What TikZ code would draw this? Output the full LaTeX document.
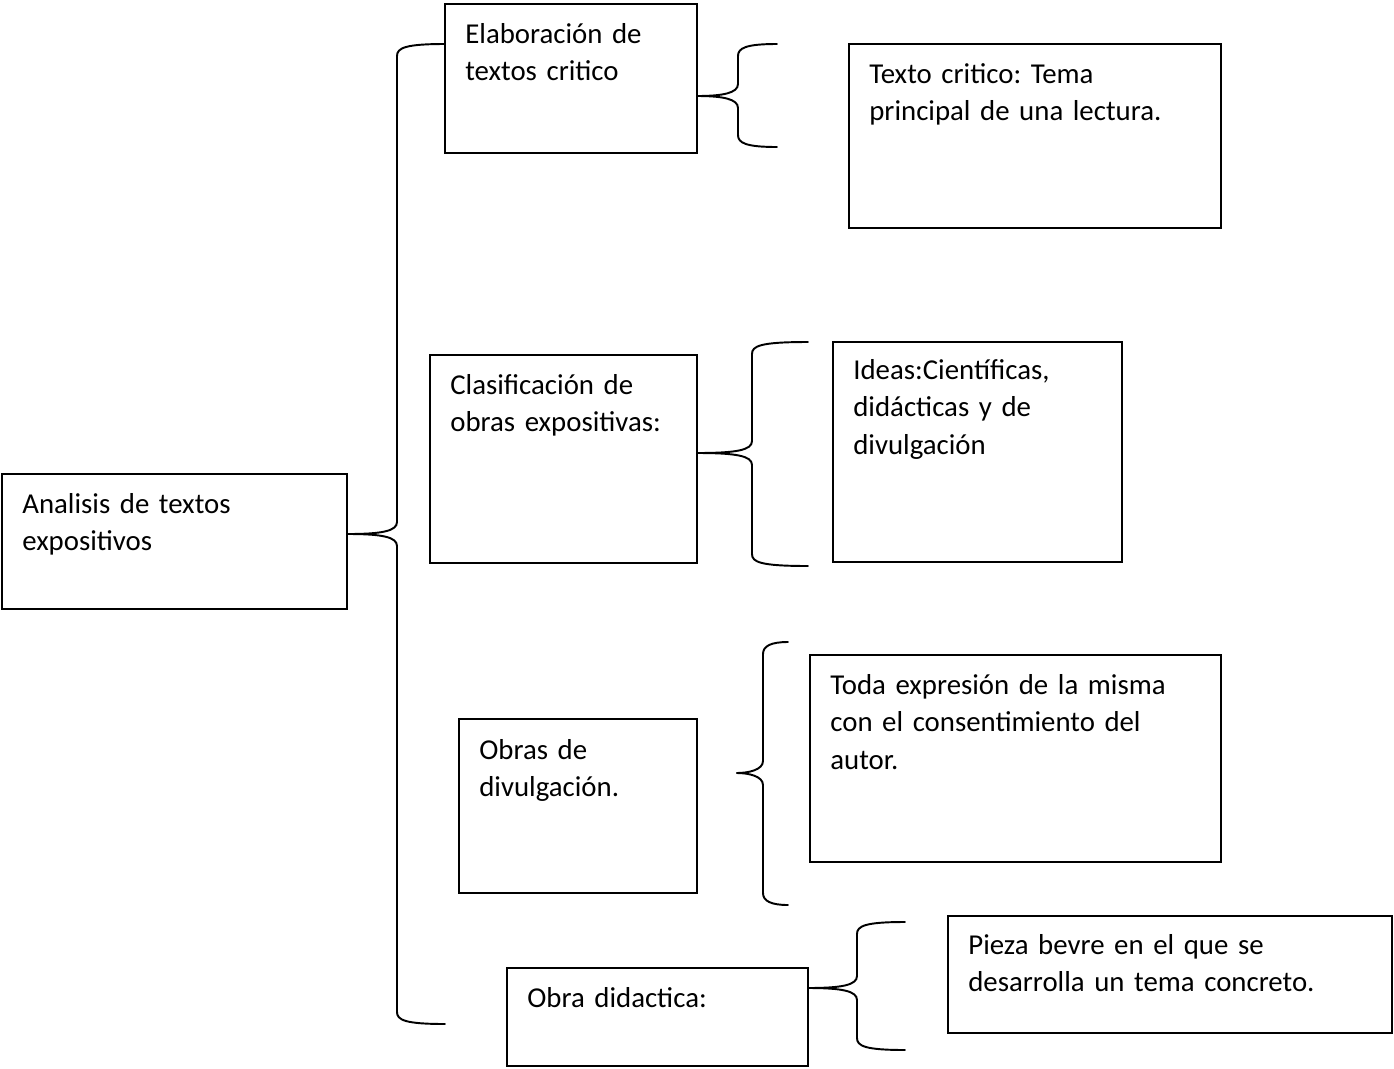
\documentclass[tikz,border=0pt]{standalone}
\usepackage{fontspec}
\setmainfont{Carlito}
\usetikzlibrary{calc}

\tikzset{
  cajon/.style={draw, line width=1.1pt, inner sep=0pt, outer sep=0pt, anchor=north west},
  texto/.style={anchor=base west, inner sep=0pt, align=left, text width=9cm,
    font=\fontsize{16.4}{21.6}\selectfont\frenchspacing},
  llave/.style={line width=1.1pt, line cap=round}
}

% #1 punta, #2 hasta el lomo, #3 arriba, #4 abajo, #5 brazo
\newcommand*{\Llave}[5]{%
  \draw[llave] (#1) .. controls +({#2-15},0) and +(0,9) .. ++(#2,-12)
    -- ++(0,{24-#3}) .. controls +(0,-8) and +({8-#5},0) .. ++(#5,-12);
  \draw[llave] (#1) .. controls +({#2-15},0) and +(0,-9) .. ++(#2,12)
    -- ++(0,{#4-24}) .. controls +(0,8) and +({8-#5},0) .. ++(#5,12);}

\begin{document}
\begin{tikzpicture}[x=0.02cm, y=-0.02cm]
            \useasboundingbox (0,0) rectangle (1394,1069);
            \node[cajon, minimum width=345*0.02cm, minimum height=135*0.02cm] (analisis) at (2,474) {};
            \node[cajon, minimum width=252*0.02cm, minimum height=149*0.02cm] (elaboracion) at (445,4) {};
            \node[cajon, minimum width=372*0.02cm, minimum height=184*0.02cm] (critico) at (849,44) {};
            \node[cajon, minimum width=267*0.02cm, minimum height=208*0.02cm] (clasificacion) at (430,355) {};
            \node[cajon, minimum width=289*0.02cm, minimum height=220*0.02cm] (ideas) at (833,342) {};
            \node[cajon, minimum width=238*0.02cm, minimum height=174*0.02cm] (divulgacion) at (459,719) {};
            \node[cajon, minimum width=411*0.02cm, minimum height=207*0.02cm] (expresion) at (810,655) {};
            \node[cajon, minimum width=301*0.02cm, minimum height=98*0.02cm] (didactica) at (507,968) {};
            \node[cajon, minimum width=444*0.02cm, minimum height=117*0.02cm] (pieza) at (948,916) {};

            \node[texto] (analisistxt) at ($(analisis.north west)+(20,39)$) {Analisis de textos\\expositivos};
            \node[texto] (elaboraciontxt) at ($(elaboracion.north west)+(20,39)$) {Elaboración de\\textos critico};
            \node[texto] (criticotxt) at ($(critico.north west)+(20,39)$) {Texto critico: Tema\\principal de una lectura.};
            \node[texto] (clasificaciontxt) at ($(clasificacion.north west)+(20,39)$) {Clasificación de\\obras expositivas:};
            \node[texto] (ideastxt) at ($(ideas.north west)+(20,37)$) {Ideas:Científicas,\\didácticas y de\\divulgación};
            \node[texto] (divulgaciontxt) at ($(divulgacion.north west)+(20,40)$) {Obras de\\divulgación.};
            \node[texto] (expresiontxt) at ($(expresion.north west)+(20,39)$) {Toda expresión de la misma\\con el consentimiento del\\autor.};
            \node[texto] (didacticatxt) at ($(didactica.north west)+(20,39)$) {Obra didactica:};
            \node[texto] (piezatxt) at ($(pieza.north west)+(20,38)$) {Pieza bevre en el que se\\desarrolla un tema concreto.};

            \coordinate (puntaA) at ($(analisis.north east)+(1,60)$);
            \coordinate (puntaB) at ($(elaboracion.north east)+(0,92)$);
            \coordinate (puntaC) at ($(clasificacion.north east)+(0,98)$);
            \coordinate (puntaD) at ($(divulgacion.north east)+(40,54)$);
            \coordinate (puntaE) at ($(didactica.north east)+(0,20)$);

            \Llave{puntaA}{49}{490}{490}{48}
            \Llave{puntaB}{41}{52}{51}{39}
            \Llave{puntaC}{55}{111}{113}{56}
            \Llave{puntaD}{26}{131}{132}{25}
            \Llave{puntaE}{49}{66}{62}{48}
          \end{tikzpicture}
\end{document}
